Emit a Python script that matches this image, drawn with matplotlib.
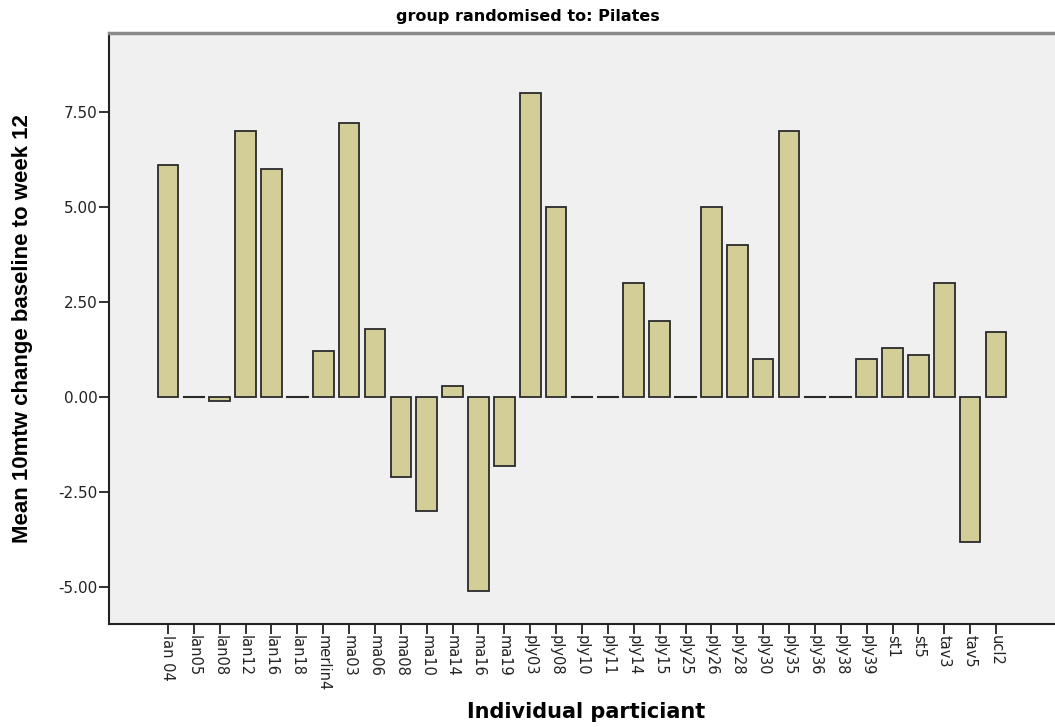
import numpy as np
import matplotlib
matplotlib.use('Agg')
import matplotlib.pyplot as plt

# participants (x axis) and mean change values
participants = ['lan 04', 'lan05', 'lan08', 'lan12', 'lan16', 'lan18', 'merlin4',
                'ma03', 'ma06', 'ma08', 'ma10', 'ma14', 'ma16', 'ma19',
                'ply03', 'ply08', 'ply10', 'ply11', 'ply14', 'ply15', 'ply25',
                'ply26', 'ply28', 'ply30', 'ply35', 'ply36', 'ply38', 'ply39',
                'st1', 'st5', 'tav3', 'tav5', 'ucl2']
mean_change = [6.1, 0.0, -0.1, 7.0, 6.0, 0.0, 1.2,
               7.2, 1.8, -2.1, -3.0, 0.28, -5.1, -1.8,
               8.0, 5.0, 0.0, 0.0, 3.0, 2.0, 0.0,
               5.0, 4.0, 1.0, 7.0, 0.0, 0.0, 1.0,
               1.3, 1.1, 3.0, -3.8, 1.7]
yticks = [-5.0, -2.5, 0.0, 2.5, 5.0, 7.5]

plt.rcParams['font.family'] = ['Liberation Sans', 'DejaVu Sans']

fig = plt.figure(figsize=(10.55, 7.27), dpi=100)
ax = fig.add_axes([109/1055, 103/727, 1 - 109/1055, 591/727])
ax.set_facecolor('#f0f0f0')

x = np.arange(len(participants))
ax.bar(x, mean_change, width=0.8, color='#d3ce97', edgecolor='#2a2a2a', linewidth=1.3)
# zero-valued bars show as a short dark line
for xi, v in zip(x, mean_change):
    if v == 0:
        ax.plot([xi - 0.4, xi + 0.4], [0, 0], color='#2a2a2a', lw=1.5)

ax.set_xlim(-2.28, len(participants) - 1 + 2.28)
ax.set_ylim(-5.97, 9.58)
ax.set_yticks(yticks)
ax.set_yticklabels(['%.2f' % t for t in yticks], fontsize=11, color='#222222',
                   family=['DejaVu Sans'])
ax.set_xticks(x)
ax.set_xticklabels(participants, rotation=-90, fontsize=10.5, color='#222222',
                   family=['DejaVu Sans'])
ax.tick_params(axis='both', length=7, width=1.3, color='#222222', pad=1)

for side in ['left', 'bottom']:
    ax.spines[side].set_linewidth(1.5)
    ax.spines[side].set_color('#222222')
ax.spines['top'].set_color('#8a8a8a')
ax.spines['top'].set_linewidth(2.5)
ax.spines['right'].set_visible(False)

fig.text(23/1055, 1 - 329/727, 'Mean 10mtw change baseline to week 12', rotation=90,
         ha='center', va='center', fontsize=16, fontweight='bold')
fig.text(586/1055, 1 - 712/727, 'Individual particiant', ha='center', va='center',
         fontsize=15, fontweight='bold', family=['DejaVu Sans'])
fig.text(0.5, 1 - 16/727, 'group randomised to: Pilates', ha='center', va='center',
         fontsize=11.5, fontweight='bold', family=['DejaVu Sans'])

fig.savefig('out.png', dpi=100)
